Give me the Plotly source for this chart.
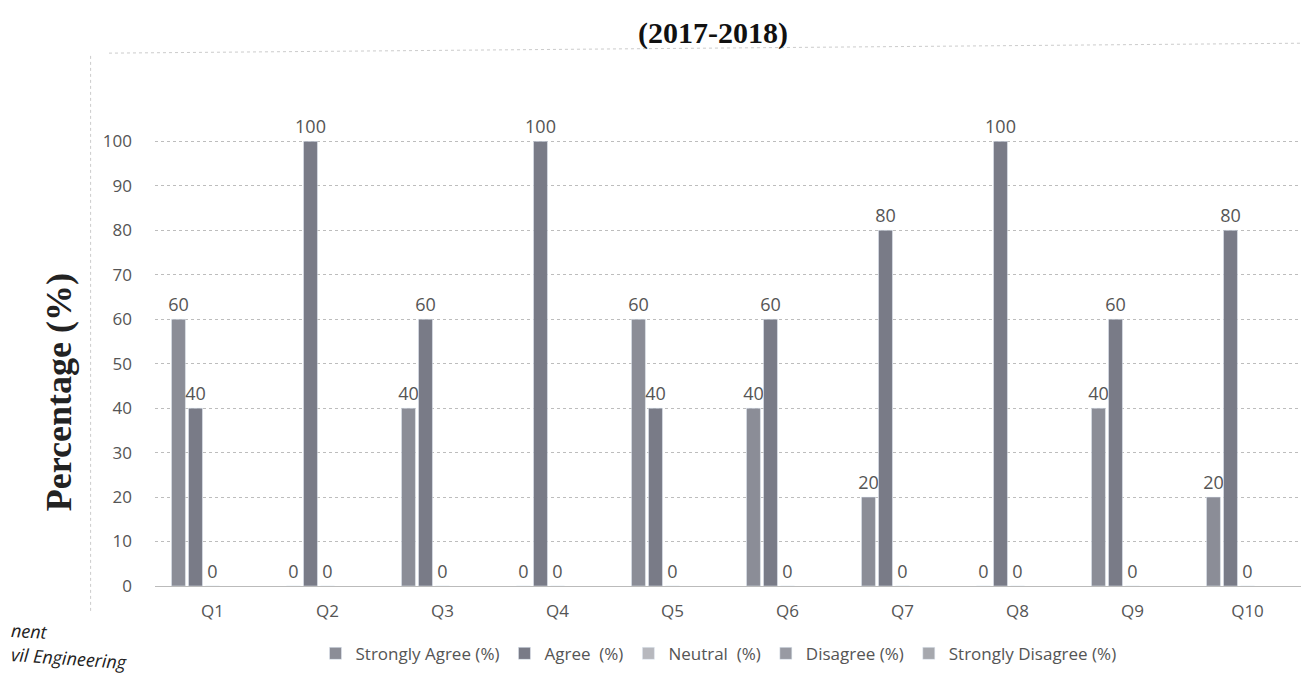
import plotly.graph_objects as go

categories = ["Q1", "Q2", "Q3", "Q4", "Q5", "Q6", "Q7", "Q8", "Q9", "Q10"]
strongly_agree = [60, 0, 40, 0, 60, 40, 20, 0, 40, 20]
agree = [40, 100, 60, 100, 40, 60, 80, 100, 60, 80]
neutral = [0, 0, 0, 0, 0, 0, 0, 0, 0, 0]
disagree = [None] * 10
strongly_disagree = [None] * 10
y_ticks = [0, 10, 20, 30, 40, 50, 60, 70, 80, 90, 100]

series = [
    ("Strongly Agree (%)", strongly_agree, "#8b8d97"),
    ("Agree  (%)", agree, "#797b87"),
    ("Neutral  (%)", neutral, "#b7b8be"),
    ("Disagree (%)", disagree, "#989aa3"),
    ("Strongly Disagree (%)", strongly_disagree, "#a6a8ae"),
]

fig = go.Figure()
for name, vals, col in series:
    fig.add_trace(go.Bar(
        x=categories, y=vals, name=name, marker_color=col,
        texttemplate="%{y}", textposition="outside", cliponaxis=False,
        constraintext="none",
        textfont=dict(family="Open Sans", size=18, color="#555555"),
    ))

fig.update_layout(
    width=1309, height=678,
    margin=dict(l=147, r=12, t=80, b=100),
    paper_bgcolor="white", plot_bgcolor="white",
    barmode="group", bargap=0.26, bargroupgap=0.18,
    showlegend=True,
    legend=dict(orientation="h", x=0.49, xanchor="center", y=-0.1, yanchor="top",
                font=dict(family="Open Sans", size=17, color="#555555"),
                itemwidth=30, tracegroupgap=0),
    xaxis=dict(showgrid=False, showline=True, linecolor="#bbbbbb",
               tickfont=dict(family="Open Sans", size=17, color="#555555"),
               ticks="", ticklabelstandoff=10),
    yaxis=dict(range=[0, 112], tickvals=y_ticks, showgrid=True,
               gridcolor="#bdbdbd", griddash="dot", zeroline=False,
               tickfont=dict(family="Open Sans", size=17, color="#555555"),
               ticklabelstandoff=22),
    annotations=[
        dict(text="<b>(2017-2018)</b>", xref="paper", yref="paper", x=0.485, y=1.11,
             xanchor="center", yanchor="middle", showarrow=False,
             font=dict(family="Liberation Serif", size=30, color="#111111")),
        dict(text="<b>Percentage (%)</b>", xref="paper", yref="paper", x=-0.084, y=0.39,
             xanchor="center", yanchor="middle", showarrow=False, textangle=-90,
             font=dict(family="Liberation Serif", size=36, color="#222222")),
        dict(text="<i>nent</i>", xref="paper", yref="paper", x=-0.128, y=-0.09,
             xanchor="left", yanchor="middle", showarrow=False, textangle=3,
             font=dict(family="Open Sans", size=18, color="#222222")),
        dict(text="<i>vil Engineering</i>", xref="paper", yref="paper", x=-0.128, y=-0.145,
             xanchor="left", yanchor="middle", showarrow=False, textangle=4,
             font=dict(family="Open Sans", size=18, color="#222222")),
    ],
    shapes=[
        dict(type="line", xref="paper", yref="paper", x0=-0.056, x1=-0.056, y0=-0.05, y1=1.07,
             line=dict(color="#cccccc", width=1, dash="dot")),
        dict(type="line", xref="paper", yref="paper", x0=-0.04, x1=1.0, y0=1.07, y1=1.09,
             line=dict(color="#cccccc", width=1, dash="dot")),
    ],
)

fig.write_html("out.html")
